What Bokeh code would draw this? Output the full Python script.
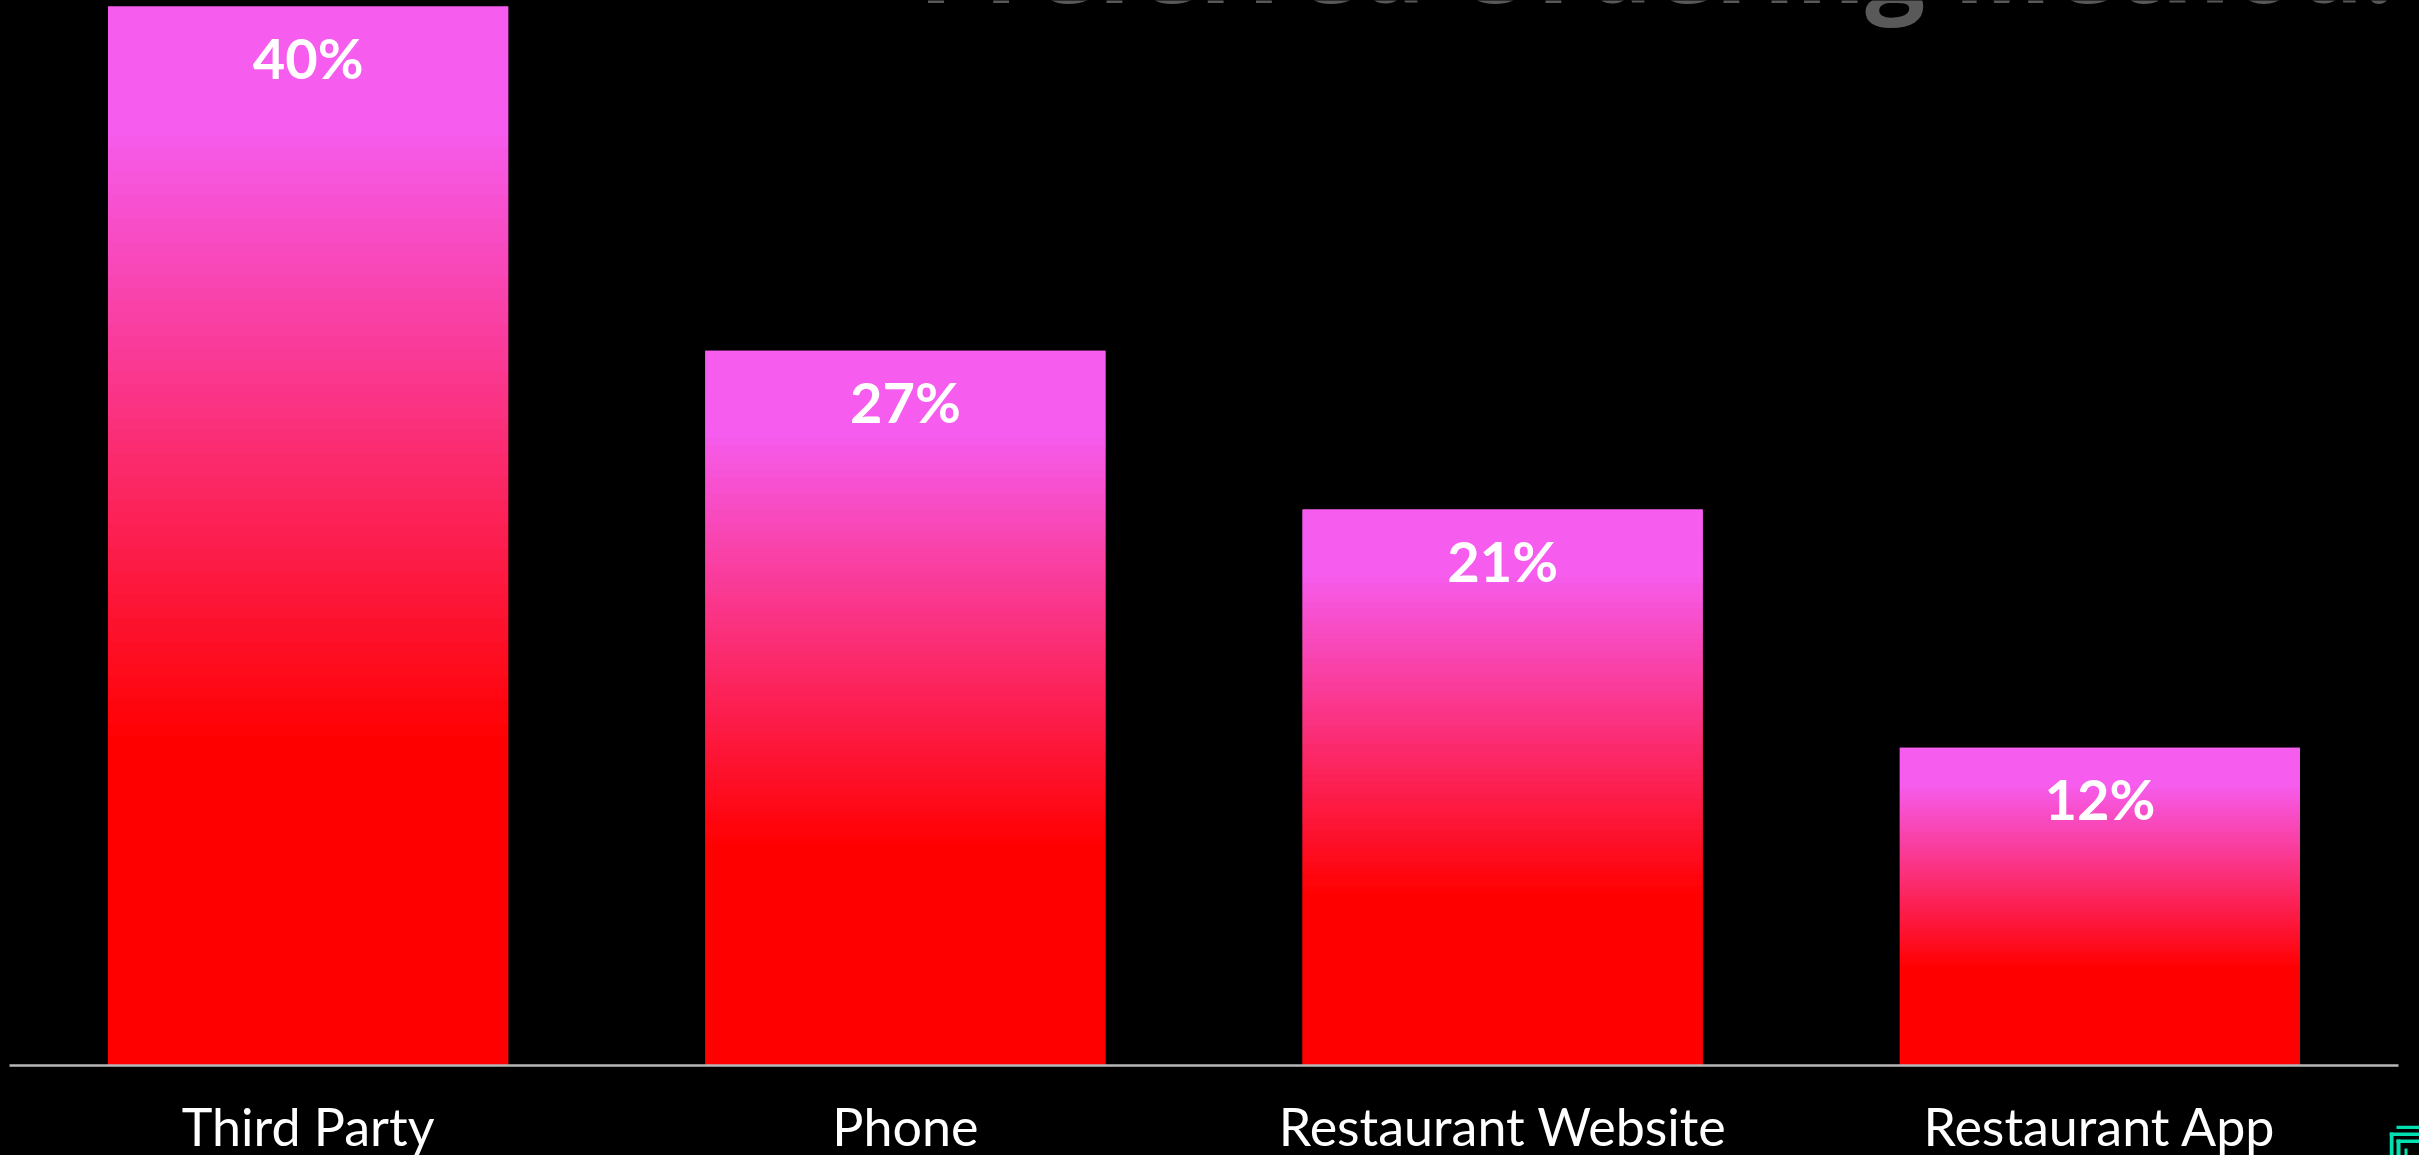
from bokeh.embed import file_html
from bokeh.layouts import column
from bokeh.resources import INLINE
from bokeh.plotting import figure
from bokeh.models import ColumnDataSource, FactorRange, Label, Range1d
from bokeh.core.properties import value

categories = ["Third Party", "Phone", "Restaurant Website", "Restaurant App"]
shares = [40, 27, 21, 12]
value_labels = ["40%", "27%", "21%", "12%"]
title_text = "Preferred Ordering Method:"

# Corner brand mark: left, right, top, bottom edges of its teal strokes.
mark_left = [2387, 2380, 2380, 2387, 2387, 2395]
mark_right = [2419, 2419, 2384, 2419, 2391, 2398]
mark_top = [1125, 1132, 1132, 1139, 1139, 1148]
mark_bottom = [1128.5, 1135.5, 1155, 1142.5, 1155, 1155]

PINK = (246, 92, 237)
RED = (255, 0, 0)
BANDS = 90
# Share of the bar height, measured from its top, where the blend starts and ends.
BLEND_START = 0.11
BLEND_END = 0.69


def band_colour(depth):
    t = min(max((depth - BLEND_START) / (BLEND_END - BLEND_START), 0), 1)
    rgb = [round(a + (b - a) * t) for a, b in zip(PINK, RED)]
    return "#%02x%02x%02x" % tuple(rgb)


# Each bar is a stack of colour bands two steps tall, drawn top down, so every
# height is covered by the same number of layers and the bar edges stay even.
band_x, band_top, band_bottom, band_colours = [], [], [], []
for category, share in zip(categories, shares):
    for i in range(-1, BANDS):
        band_x.append(category)
        band_top.append(min(share, share * (1 - i / BANDS)))
        band_bottom.append(max(share * (1 - (i + 2) / BANDS), 0))
        band_colours.append(band_colour(max(i, 0) / BANDS))

p = figure(
    width=2419,
    height=1155,
    frame_width=2389,
    frame_height=1065,
    x_range=FactorRange(factors=categories, range_padding=0, factor_padding=0),
    y_range=Range1d(0, 40.227),
    output_backend="svg",
    toolbar_location=None,
    background_fill_color="#000000",
    border_fill_color="#000000",
    outline_line_color=None,
    min_border_left=9,
    min_border_right=21,
    min_border_top=0,
    min_border_bottom=90,
    styles={"background-color": "#000000"},
)

p.vbar(
    x="x", top="top", bottom="bottom", width=0.67, fill_color="colour", line_color=None,
    source=ColumnDataSource(dict(x=band_x, top=band_top, bottom=band_bottom, colour=band_colours)),
)

p.text(
    x="x", y="y", text="label",
    source=ColumnDataSource(dict(x=categories, y=shares, label=value_labels)),
    y_offset=51,
    text_align="center",
    text_baseline="middle",
    text_color="#ffffff",
    text_font=value("Lato"),
    text_font_style="bold",
    text_font_size="56px",
)

p.grid.visible = False
p.yaxis.visible = False
xaxis = p.xaxis[0]
xaxis.axis_line_color = "#b8b8b8"
xaxis.axis_line_width = 2.5
xaxis.major_tick_line_color = None
xaxis.minor_tick_line_color = None
xaxis.major_tick_out = 0
xaxis.major_tick_in = 0
xaxis.major_label_standoff = 29
xaxis.major_label_text_color = "#ffffff"
xaxis.major_label_text_font = "Lato"
xaxis.major_label_text_font_size = "52px"

p.add_layout(Label(
    x=918, y=-39, x_units="canvas", y_units="canvas",
    text=title_text,
    text_color="#595959",
    text_font="Open Sans",
    text_font_style="bold",
    text_font_size="106px",
    text_baseline="alphabetic",
    text_align="left",
))

# The mark lies outside the main frame, so it gets a small figure of its own,
# pinned over the bottom right corner of the chart.
mark = figure(
    width=39,
    height=30,
    frame_width=39,
    frame_height=30,
    x_range=Range1d(2380, 2419),
    y_range=Range1d(1155, 1125),
    x_axis_location=None,
    y_axis_location=None,
    output_backend="svg",
    toolbar_location=None,
    background_fill_color="#000000",
    border_fill_color="#000000",
    outline_line_color=None,
    min_border=0,
    margin=0,
    styles={
        "position": "absolute",
        "left": "2380px",
        "top": "1125px",
        "width": "39px",
        "height": "30px",
        "background-color": "#000000",
    },
)
mark.grid.visible = False
mark.quad(
    left=mark_left, right=mark_right, top=mark_top, bottom=mark_bottom,
    fill_color="#00e0b0", line_color=None,
)

page = column(p, mark, spacing=0, styles={"background-color": "#000000"})
open("out.html", "w").write(file_html(page, INLINE))
